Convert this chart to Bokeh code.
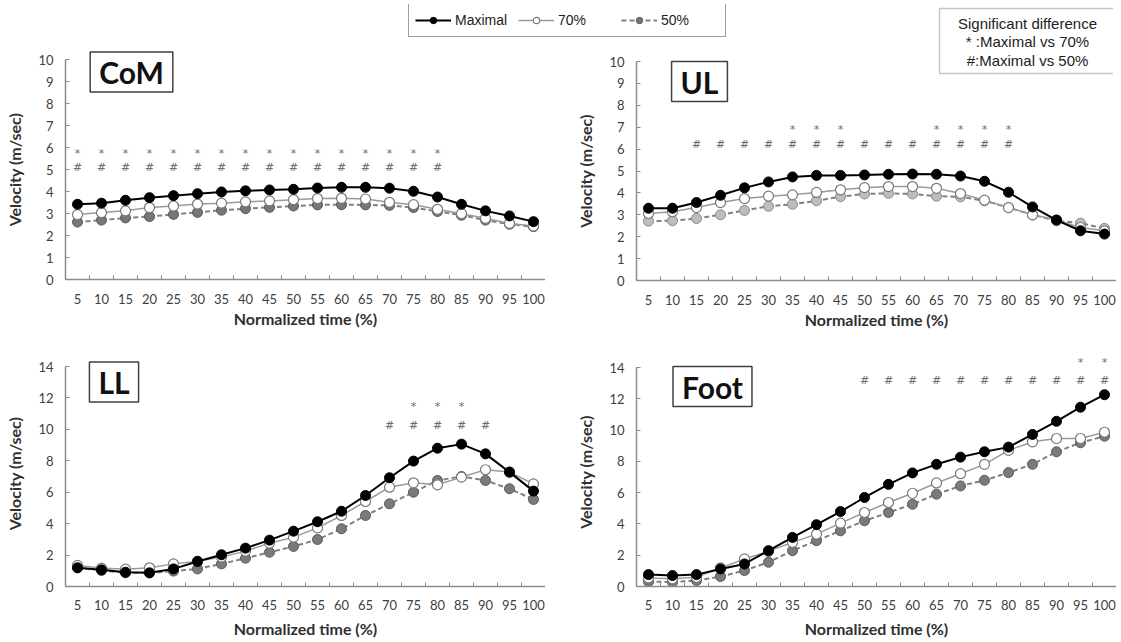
from bokeh.plotting import figure
from bokeh.layouts import column
from bokeh.models import (FixedTicker, ColumnDataSource, LabelSet, Label, BoxAnnotation,
                          Legend, LegendItem, Range1d)
from bokeh.core.properties import value
from bokeh.embed import file_html
from bokeh.resources import INLINE

# ---------------- data ----------------
times = [5, 10, 15, 20, 25, 30, 35, 40, 45, 50, 55, 60, 65, 70, 75, 80, 85, 90, 95, 100]

com_max = [3.42, 3.47, 3.60, 3.72, 3.81, 3.90, 3.98, 4.03, 4.07, 4.10, 4.16, 4.19, 4.19, 4.15, 4.01, 3.75, 3.42, 3.12, 2.89, 2.63]
com_70 = [2.95, 3.04, 3.12, 3.27, 3.34, 3.43, 3.47, 3.53, 3.57, 3.63, 3.68, 3.69, 3.66, 3.51, 3.40, 3.19, 2.99, 2.78, 2.55, 2.43]
com_50 = [2.61, 2.70, 2.80, 2.86, 2.96, 3.05, 3.15, 3.22, 3.28, 3.34, 3.39, 3.40, 3.39, 3.37, 3.27, 3.09, 2.92, 2.70, 2.51, 2.40]

ul_max = [3.30, 3.30, 3.56, 3.89, 4.23, 4.50, 4.73, 4.80, 4.80, 4.82, 4.85, 4.86, 4.85, 4.77, 4.53, 4.03, 3.36, 2.76, 2.27, 2.12]
ul_70 = [3.06, 3.14, 3.33, 3.56, 3.74, 3.85, 3.91, 4.02, 4.14, 4.24, 4.29, 4.29, 4.21, 3.97, 3.67, 3.33, 3.00, 2.76, 2.42, 2.27]
ul_50 = [2.71, 2.73, 2.83, 3.00, 3.20, 3.39, 3.48, 3.64, 3.83, 3.95, 3.98, 3.95, 3.85, 3.82, 3.64, 3.33, 3.00, 2.73, 2.62, 2.38]

ll_max = [1.19, 1.06, 0.91, 0.87, 1.12, 1.59, 2.02, 2.44, 2.95, 3.52, 4.12, 4.79, 5.79, 6.92, 7.98, 8.80, 9.06, 8.44, 7.28, 6.07]
ll_70 = [1.34, 1.17, 1.10, 1.19, 1.44, 1.61, 1.87, 2.25, 2.76, 3.14, 3.73, 4.52, 5.41, 6.32, 6.60, 6.47, 6.96, 7.43, 7.28, 6.53]
ll_50 = [1.19, 1.02, 0.87, 0.87, 0.98, 1.12, 1.44, 1.80, 2.18, 2.55, 2.99, 3.67, 4.52, 5.26, 6.00, 6.75, 7.00, 6.75, 6.22, 5.54]

foot_max = [0.76, 0.70, 0.76, 1.12, 1.44, 2.29, 3.14, 3.95, 4.79, 5.69, 6.53, 7.26, 7.81, 8.27, 8.61, 8.91, 9.72, 10.56, 11.46, 12.26]
foot_70 = [0.55, 0.49, 0.59, 1.19, 1.76, 2.25, 2.82, 3.35, 4.05, 4.73, 5.37, 5.96, 6.62, 7.21, 7.81, 8.70, 9.25, 9.46, 9.46, 9.86]
foot_50 = [0.32, 0.28, 0.38, 0.64, 1.02, 1.55, 2.29, 2.93, 3.56, 4.20, 4.73, 5.26, 5.90, 6.43, 6.79, 7.28, 7.81, 8.61, 9.19, 9.61]

# significance marks: x positions and the height (m/sec) at which they are printed
com_star_x = [5, 10, 15, 20, 25, 30, 35, 40, 45, 50, 55, 60, 65, 70, 75, 80]
com_hash_x = [5, 10, 15, 20, 25, 30, 35, 40, 45, 50, 55, 60, 65, 70, 75, 80]
ul_star_x = [35, 40, 45, 65, 70, 75, 80]
ul_hash_x = [15, 20, 25, 30, 35, 40, 45, 50, 55, 60, 65, 70, 75, 80]
ll_star_x = [75, 80, 85]
ll_hash_x = [70, 75, 80, 85, 90]
foot_star_x = [95, 100]
foot_hash_x = [50, 55, 60, 65, 70, 75, 80, 85, 90, 95, 100]
star_y = {"CoM": 5.73, "UL": 6.9, "LL": 11.46, "Foot": 14.32}
hash_y = {"CoM": 5.1, "UL": 6.2, "LL": 10.25, "Foot": 13.16}

series_labels = ["Maximal", "70%", "50%"]
y_title = "Velocity (m/sec)"
x_title = "Normalized time (%)"
sig_lines = ["Significant difference", "* :Maximal vs 70%", "#:Maximal vs 50%"]

# ---------------- styles / geometry ----------------
AX = "#8c8c8c"
TICK_FONT = "Lato"
LEFT_B = 60           # identical left border for every figure
PX_X = 4.8            # pixels per x unit (480 px for 100 units)

STYLE_MAX = dict(line=dict(line_color="black", line_width=2),
                 pts=dict(fill_color="black", line_color="black", line_width=1))
STYLE_70 = dict(line=dict(line_color="#9a9a9a", line_width=1.5),
                pts=dict(fill_color="white", line_color="#7a7a7a", line_width=1.2))


def style_50(fill, edge):
    return dict(line=dict(line_color="#808080", line_width=2, line_dash="5 3"),
                pts=dict(fill_color=fill, line_color=edge, line_width=1))


def base_fig(frame_w, frame_h, top_b, bottom_b, px_y):
    p = figure(frame_width=frame_w, frame_height=frame_h,
               output_backend="svg", toolbar_location=None,
               x_range=Range1d(2.5, 2.5 + frame_w / PX_X), y_range=Range1d(0, frame_h / px_y),
               min_border_left=LEFT_B, min_border_top=top_b,
               min_border_right=0, min_border_bottom=bottom_b)
    p.background_fill_color = None
    p.border_fill_color = None
    p.outline_line_color = None
    p.grid.visible = False
    return p


def overlay_fig(frame_w, frame_h, top_b, bottom_b, px_y):
    # same scales as the panel underneath, axes kept but invisible
    p = base_fig(frame_w, frame_h, top_b, bottom_b, px_y)
    for ax in list(p.xaxis) + list(p.yaxis):
        ax.ticker = FixedTicker(ticks=[], minor_ticks=[])
        ax.axis_line_color = None
        ax.major_tick_line_color = None
        ax.minor_tick_line_color = None
        ax.major_label_text_color = None
    return p


def draw_series(p, maxv, v70, v50, s50):
    r50l = p.line(times, v50, **s50["line"])
    r50p = p.scatter(times, v50, size=10, **s50["pts"])
    r70l = p.line(times, v70, **STYLE_70["line"])
    r70p = p.scatter(times, v70, size=10, **STYLE_70["pts"])
    rml = p.line(times, maxv, **STYLE_MAX["line"])
    rmp = p.scatter(times, maxv, size=10, **STYLE_MAX["pts"])
    return [(rml, rmp), (r70l, r70p), (r50l, r50p)]


def add_name_box(p, name, pos):
    p.add_layout(Label(x=pos[0], y=pos[1], x_units="screen", y_units="screen", text=name,
                       text_font="Lato", text_font_style="bold", text_font_size="30px",
                       text_color="#111111", text_align="center", text_baseline="middle",
                       border_line_color="#404040", border_line_width=1.5,
                       background_fill_color="white", padding=(9, 2)))


def make_panel(name, maxv, v70, v50, star_x, hash_x, ymax, ystep, px_y,
               frame_h, top_b, bottom_b, s50, lab_off, title_gap, box_pos=None, data=True):
    p = base_fig(480, frame_h, top_b, bottom_b, px_y)

    xa = p.xaxis[0]
    xa.bounds = (2.5, 102.5)
    xa.ticker = FixedTicker(ticks=times, minor_ticks=[t - 2.5 for t in times] + [102.5])
    xa.major_tick_in = 0
    xa.major_tick_out = 0
    xa.minor_tick_in = 4
    xa.minor_tick_out = 0
    xa.minor_tick_line_color = AX
    xa.axis_line_color = AX
    xa.axis_line_width = 1.5
    xa.major_label_standoff = lab_off
    xa.major_label_text_font = TICK_FONT
    xa.major_label_text_font_size = "13px"
    xa.major_label_text_color = "#404040"
    xa.axis_label = x_title
    xa.axis_label_text_font = TICK_FONT
    xa.axis_label_text_font_style = "bold"
    xa.axis_label_text_font_size = "16px"
    xa.axis_label_text_color = "#303030"
    xa.axis_label_standoff = title_gap

    ya = p.yaxis[0]
    ya.bounds = (0, ymax)
    ya.ticker = FixedTicker(ticks=list(range(0, ymax + 1, ystep)), minor_ticks=[])
    ya.major_tick_in = 4
    ya.major_tick_out = 0
    ya.major_tick_line_color = AX
    ya.axis_line_color = AX
    ya.axis_line_width = 1.5
    ya.major_label_standoff = 12
    ya.major_label_text_font = TICK_FONT
    ya.major_label_text_font_size = "13px"
    ya.major_label_text_color = "#404040"
    ya.axis_label = y_title
    ya.axis_label_text_font = TICK_FONT
    ya.axis_label_text_font_style = "bold"
    ya.axis_label_text_font_size = "16px"
    ya.axis_label_text_color = "#303030"
    ya.axis_label_standoff = 11

    if data:
        draw_series(p, maxv, v70, v50, s50)

    src = ColumnDataSource(dict(
        x=star_x + hash_x,
        y=[star_y[name]] * len(star_x) + [hash_y[name]] * len(hash_x),
        t=["*"] * len(star_x) + ["#"] * len(hash_x)))
    p.add_layout(LabelSet(x="x", y="y", text="t", source=src,
                          text_font=value("DejaVu Sans"), text_font_size=value("11px"),
                          text_color="#6a6a6a", text_align="center", text_baseline="middle"))
    if box_pos is not None:
        add_name_box(p, name, box_pos)
    return p


# ---- CoM: axes panel (frame x 62..542, y 59..279) + overlay (frame x 62..762, y 4..279)
p1b = overlay_fig(700, 275, 4, 52, 22.0)
leg_r = draw_series(p1b, com_max, com_70, com_50, style_50("#767676", "#5a5a5a"))
add_name_box(p1b, "CoM", (66, 207.5))
legend = Legend(items=[LegendItem(label=lab, renderers=list(rr))
                       for lab, rr in zip(series_labels, leg_r)],
                orientation="horizontal", location=(386, 242),
                label_text_font="Liberation Sans", label_text_font_size="14px",
                label_text_color="#222222",
                glyph_width=36, glyph_height=16, label_standoff=4, label_width=58,
                label_height=21, spacing=5, padding=6, margin=0,
                border_line_color="#404040", border_line_width=1.5,
                background_fill_color="white", background_fill_alpha=1.0)
p1b.add_layout(legend)
p1a = make_panel("CoM", com_max, com_70, com_50, com_star_x, com_hash_x, 10, 1, 22.0,
                 220, 59, 52, None, 14, 2, box_pos=None, data=False)

# ---- UL: axes panel (frame x 633..1113, y 61..280) + overlay (frame y 4..280)
p2b = overlay_fig(480, 276, 4, 52, 21.9)
add_name_box(p2b, "UL", (63, 199))
p2b.add_layout(BoxAnnotation(left=303, right=479, top=272, bottom=207,
                             left_units="screen", right_units="screen",
                             top_units="screen", bottom_units="screen",
                             fill_color="white", fill_alpha=1.0,
                             line_color="#404040", line_width=1.5))
for txt, yy in zip(sig_lines, (257, 239, 220)):
    p2b.add_layout(Label(x=391, y=yy, x_units="screen", y_units="screen", text=txt,
                         text_font="Liberation Sans", text_font_size="15px",
                         text_color="#222222", text_align="center", text_baseline="middle"))
p2a = make_panel("UL", ul_max, ul_70, ul_50, ul_star_x, ul_hash_x, 10, 1, 21.9,
                 219, 61, 52, style_50("#bdbdbd", "#8a8a8a"), 14, 2, box_pos=None)

# ---- LL: frame x 62..542, y 360..586 (axis up to 14 at y 366)
p3 = make_panel("LL", ll_max, ll_70, ll_50, ll_star_x, ll_hash_x, 14, 2, 220 / 14,
                226, 52, 55, style_50("#7a7a7a", "#5a5a5a"), 13, 6, box_pos=(48.5, 204.5))
# ---- Foot: frame x 633..1113, y 357..586 (axis up to 14 at y 367)
p4 = make_panel("Foot", foot_max, foot_70, foot_50, foot_star_x, foot_hash_x, 14, 2, 219 / 14,
                229, 49, 55, style_50("#7a7a7a", "#5a5a5a"), 13, 6, box_pos=(76, 200))

# stack the transparent figures into one 1121x642 area (margins: top, right, bottom, left)
p1b.margin = (0, 0, 0, 2)        # 0..331
p1a.margin = (-331, 0, 0, 2)     # 0..331
p2b.margin = (-331, 0, 0, 573)   # 0..332
p2a.margin = (-332, 0, 0, 573)   # 0..332
p3.margin = (-24, 0, 0, 2)       # 308..641
p4.margin = (-333, 0, 0, 573)    # 308..641

layout = column(p1b, p1a, p2b, p2a, p3, p4, spacing=0)

open("out.html", "w").write(file_html(layout, INLINE))
